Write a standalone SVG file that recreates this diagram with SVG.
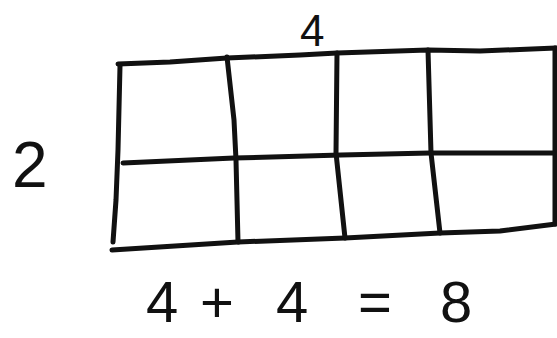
<svg xmlns="http://www.w3.org/2000/svg" width="557" height="338" viewBox="0 0 557 338">
<style>
.ln{fill:none;stroke:#111;stroke-width:5;stroke-linecap:round;stroke-linejoin:round}
.t{font-family:"Liberation Sans",Arial,sans-serif;fill:#111}
</style>
<rect width="557" height="338" fill="#fff"/>
<g id="grid">
<path class="ln" d="M118,64 L170,62 L227,58 L300,55 L337,53 L428,50 L480,51 L556,48"/>
<path class="ln" d="M120,66 L118,150 L116,200 L113,242"/>
<path class="ln" d="M112,250 L238,242 L345,238 L440,233 L500,231 L556,224"/>
<path class="ln" d="M555,48 L555,224"/>
<path class="ln" d="M123,163 L234,158 L341,155 L430,153 L553,153"/>
<path class="ln" d="M227,57 L234,120 L236,160 L238,242"/>
<path class="ln" d="M337,53 L336,153 L345,238"/>
<path class="ln" d="M428,50 L431,153 L440,233"/>
</g>
<g id="labels">
<text class="t" x="300" y="46" font-size="44">4</text>
<text class="t" x="12" y="187" font-size="64">2</text>
<text class="t" y="322" font-size="58" x="146 200 276 330 358 420 440">4+4 = 8</text>
</g>
</svg>
